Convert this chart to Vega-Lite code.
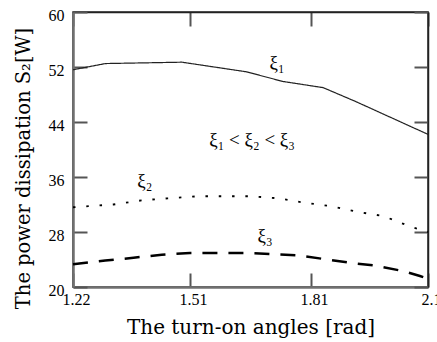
{
  "$schema": "https://vega.github.io/schema/vega-lite/v6.json",
  "width": 355,
  "height": 275,
  "autosize": "none",
  "padding": {"left": 73, "top": 12, "right": 9, "bottom": 55},
  "view": {"stroke": "#222", "strokeWidth": 1.5},
  "resolve": {"axis": {"x": "independent", "y": "independent"}},
  "layer": [
    {
      "data": {"values": [
        {"curve": "xi1", "x": 1.22, "y": 51.6},
        {"curve": "xi1", "x": 1.30, "y": 52.5},
        {"curve": "xi1", "x": 1.49, "y": 52.7},
        {"curve": "xi1", "x": 1.65, "y": 51.3},
        {"curve": "xi1", "x": 1.74, "y": 49.9},
        {"curve": "xi1", "x": 1.84, "y": 49.0},
        {"curve": "xi1", "x": 1.92, "y": 47.0},
        {"curve": "xi1", "x": 2.10, "y": 42.2},
        {"curve": "xi2", "x": 1.22, "y": 31.6},
        {"curve": "xi2", "x": 1.32, "y": 32.0},
        {"curve": "xi2", "x": 1.39, "y": 32.6},
        {"curve": "xi2", "x": 1.455, "y": 32.9},
        {"curve": "xi2", "x": 1.53, "y": 33.2},
        {"curve": "xi2", "x": 1.66, "y": 33.2},
        {"curve": "xi2", "x": 1.73, "y": 32.9},
        {"curve": "xi2", "x": 1.79, "y": 32.3},
        {"curve": "xi2", "x": 1.86, "y": 31.75},
        {"curve": "xi2", "x": 1.92, "y": 31.0},
        {"curve": "xi2", "x": 1.99, "y": 30.3},
        {"curve": "xi2", "x": 2.056, "y": 28.8},
        {"curve": "xi2", "x": 2.10, "y": 28.0},
        {"curve": "xi3", "x": 1.22, "y": 23.3},
        {"curve": "xi3", "x": 1.30, "y": 23.85},
        {"curve": "xi3", "x": 1.37, "y": 24.25},
        {"curve": "xi3", "x": 1.44, "y": 24.7},
        {"curve": "xi3", "x": 1.51, "y": 24.95},
        {"curve": "xi3", "x": 1.66, "y": 24.95},
        {"curve": "xi3", "x": 1.78, "y": 24.6},
        {"curve": "xi3", "x": 1.85, "y": 24.0},
        {"curve": "xi3", "x": 1.91, "y": 23.5},
        {"curve": "xi3", "x": 1.97, "y": 23.1},
        {"curve": "xi3", "x": 2.04, "y": 22.3},
        {"curve": "xi3", "x": 2.08, "y": 21.6},
        {"curve": "xi3", "x": 2.10, "y": 21.2}
      ]},
      "mark": {"type": "line", "strokeCap": "butt"},
      "encoding": {
        "x": {"field": "x", "type": "quantitative", "scale": {"domain": [1.22, 2.1], "nice": false, "zero": false},
          "axis": {"orient": "bottom", "values": [1.22, 1.51, 1.81, 2.1], "format": ".2~f", "labelFlush": false, "labelOverlap": false, "tickSize": -14, "tickColor": "#555", "tickWidth": 2, "domainColor": "#707070", "domainWidth": 2.5, "labelFont": "Liberation Serif", "labelColor": "#000", "labelFontSize": 16, "labelPadding": 18, "labelOffset": 3, "gridColor": "transparent", "title": "The turn-on angles [rad]", "titleFont": "DejaVu Serif", "titleColor": "#000", "titleFontWeight": "normal", "titleFontSize": 20, "titleBaseline": "alphabetic", "titleY": 46}},
        "y": {"field": "y", "type": "quantitative", "scale": {"domain": [20, 60], "nice": false, "zero": false},
          "axis": {"orient": "left", "values": [20, 28, 36, 44, 52, 60], "labelFlush": false, "labelOverlap": false, "tickSize": -14, "tickColor": "#555", "tickWidth": 2, "domainColor": "#707070", "domainWidth": 2.5, "labelFont": "Liberation Serif", "labelColor": "#000", "labelFontSize": 16, "labelPadding": 23, "labelOffset": 3, "gridColor": "transparent", "title": "The power dissipation S₂[W]", "titleFont": "DejaVu Serif", "titleColor": "#000", "titleFontWeight": "normal", "titleFontSize": 19.5, "titleBaseline": "alphabetic", "titleX": -44, "titleY": 156}},
        "color": {"field": "curve", "type": "nominal", "scale": {"domain": ["xi1", "xi2", "xi3"], "range": ["#222", "#000", "#000"]}, "legend": null},
        "strokeDash": {"field": "curve", "type": "nominal", "scale": {"domain": ["xi1", "xi2", "xi3"], "range": [[1, 0], [2.5, 10.8], [15, 11]]}, "legend": null},
        "strokeWidth": {"field": "curve", "type": "ordinal", "scale": {"domain": ["xi1", "xi2", "xi3"], "range": [1.2, 2.5, 3]}, "legend": null}
      }
    },
    {
      "data": {"values": [
        {"x": 1.726, "y": 52.65, "text": "ξ₁"},
        {"x": 1.664, "y": 41.45, "text": "ξ₁ < ξ₂ < ξ₃"},
        {"x": 1.398, "y": 35.35, "text": "ξ₂"},
        {"x": 1.696, "y": 27.35, "text": "ξ₃"}
      ]},
      "mark": {"type": "text", "font": "Liberation Serif", "fontSize": 19, "color": "#000"},
      "encoding": {
        "x": {"field": "x", "type": "quantitative",
          "axis": {"orient": "top", "values": [1.22, 1.51, 1.81, 2.1], "tickSize": -14, "tickColor": "#555", "tickWidth": 2, "domainColor": "#222", "domainWidth": 1.5, "gridColor": "transparent", "labels": false, "title": null}},
        "y": {"field": "y", "type": "quantitative",
          "axis": {"orient": "right", "values": [20, 28, 36, 44, 52, 60], "tickSize": -14, "tickColor": "#555", "tickWidth": 2, "domainColor": "#222", "domainWidth": 1.5, "gridColor": "transparent", "labels": false, "title": null}},
        "text": {"field": "text"}
      }
    }
  ]
}
